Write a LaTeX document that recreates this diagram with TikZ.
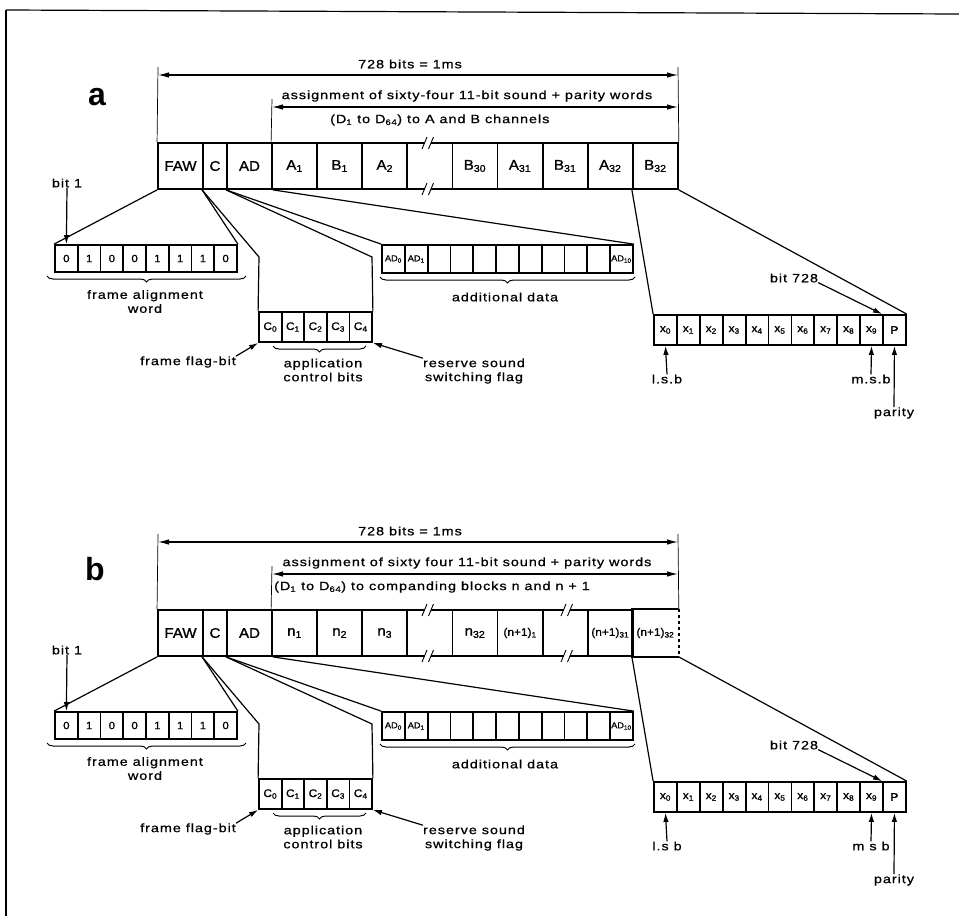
\documentclass[tikz,border=0pt]{standalone}
\usepackage{fontspec}
\setmainfont{Liberation Sans}[FakeStretch=1.2, LetterSpace=8, FakeBold=0.8]
\newfontfamily\cellfont{Liberation Sans}[FakeStretch=1.08, FakeBold=1.2]
\newfontfamily\panelfont{Liberation Sans}
\usetikzlibrary{arrows.meta, decorations.pathreplacing}

\tikzset{
 box/.style={draw, line width=1.8pt, inner sep=0pt, anchor=center, font=\cellfont\fontsize{14}{14}\selectfont},
 mcell/.style={box, minimum width=45.1pt, minimum height=46pt},
 wcell/.style={box, minimum width=22.75pt, minimum height=27pt, font=\cellfont\fontsize{10.5}{10.5}\selectfont},
 ccell/.style={box, minimum width=22.6pt, minimum height=30pt, font=\cellfont\fontsize{11}{11}\selectfont},
 adcell/.style={box, minimum width=22.8pt, minimum height=28pt, font=\cellfont\fontsize{8.5}{8.5}\selectfont},
 xcell/.style={box, minimum width=22.9pt, minimum height=30pt, font=\cellfont\fontsize{11}{11}\selectfont},
 smallcell/.style={font=\cellfont\fontsize{11}{11}\selectfont},
 lbl/.style={inner sep=0pt, font=\fontsize{12}{14}\selectfont, align=center},
 panellbl/.style={inner sep=0pt, anchor=base, font=\panelfont\bfseries\fontsize{32}{32}\selectfont},
 conn/.style={line width=1.2pt},
 pointer/.style={line width=1.2pt, -{Latex[length=9pt,width=5.5pt]}},
 dim/.style={line width=1.2pt, {Latex[length=11pt,width=5.5pt]}-{Latex[length=11pt,width=5.5pt]}},
 ext/.style={line width=0.7pt},
 brc/.style={decorate, decoration={brace, mirror, amplitude=6pt}, line width=1pt},
}

\newcommand\gapcell[5]{%
 \draw[line width=1.8pt] (#1,#4) -- ({#3-3},#4) ({#3+3},#4) -- (#2,#4) (#1,#5) -- ({#3-3},#5) ({#3+3},#5) -- (#2,#5);
 \draw[line width=0.9pt] ({#3-6},{#4+6}) -- ({#3-1},{#4-6}) ({#3+0.5},{#4+6}) -- ({#3+5.5},{#4-6})
   ({#3-6},{#5+6}) -- ({#3-1},{#5-6}) ({#3+0.5},{#5+6}) -- ({#3+5.5},{#5-6});
}

% #1 prefix, #2 second line, #3 third line, #4 x of third line, #5 lsb, #6 msb
\newcommand\panelparts[6]{%
 \coordinate (#1dimL) at (158,75);
 \coordinate (#1dimR) at (678,75);
 \coordinate (#1dimM) at (272,107);
 \coordinate (#1dimRb) at (678,107);
 \coordinate (#1extL) at (158,67);
 \coordinate (#1extR) at (678,67);
 \coordinate (#1extM) at (272,99);
 \draw[ext] (#1FAW.north west) -- (#1extL);
 \draw[ext] (#1D9.north east) -- (#1extR);
 \draw[ext] (#1D1.north west) -- (#1extM);
 \draw[dim] (#1dimL) -- (#1dimR);
 \draw[dim] (#1dimM) -- (#1dimRb);
 \node[lbl] (#1ta) at (410,64) {728 bits = 1ms};
 \node[lbl] (#1tb) at (467,96) {#2};
 \node[lbl, anchor=west] (#1tc) at (#4,120) {#3};
 % frame alignment word
 \foreach \v [count=\i from 0] in {0,1,0,0,1,1,1,0}
   \node[wcell] (#1w\i) at ({66.375+22.75*\i},258.5) {\v};
 % control bits
 \foreach \i in {0,...,4}
   \node[ccell] (#1c\i) at ({270.3+22.6*\i},327) {C\textsubscript{\i}};
 % additional data
 \node[adcell] (#1ad0) at (393.4,259) {AD\textsubscript{0}};
 \node[adcell] (#1ad1) at (416.2,259) {AD\textsubscript{1}};
 \foreach \i in {2,...,9}
   \node[adcell] (#1ad\i) at ({393.4+22.8*\i},259) {};
 \node[adcell] (#1ad10) at (621.4,259) {AD\textsubscript{10}};
 % sound word
 \foreach \i in {0,...,9}
   \node[xcell] (#1x\i) at ({665.45+22.9*\i},330) {x\textsubscript{\i}};
 \node[xcell] (#1P) at (894.45,330) {P};
 % expansion lines
 \coordinate (#1bendA) at (259,257);
 \coordinate (#1bendB) at (372,257);
 \draw[conn] (#1FAW.south west) -- (#1w0.north west);
 \draw[conn] (#1C.south west) -- (#1w7.north east);
 \draw[conn] (#1C.south west) -- (#1bendA) -- (#1c0.north west);
 \draw[conn] (#1AD.south west) -- (#1bendB) -- (#1c4.north east);
 \draw[conn] (#1AD.south west) -- (#1ad0.north west);
 \draw[conn] (#1AD.south east) -- (#1ad10.north east);
 \draw[conn] (#1D9.south west) -- (#1x0.north west);
 \draw[conn] (#1D9.south east) -- (#1P.north east);
 % braces
 \coordinate (#1bwL) at (47,276); \coordinate (#1bwR) at (246,276);
 \coordinate (#1bcL) at (273,346); \coordinate (#1bcR) at (366,346);
 \coordinate (#1baL) at (380,277); \coordinate (#1baR) at (635,277);
 \draw[brc] (#1bwL) -- (#1bwR);
 \draw[brc] (#1bcL) -- (#1bcR);
 \draw[brc] (#1baL) -- (#1baR);
 \node[lbl] (#1faw) at (145,301.5) {frame alignment\\word};
 \node[lbl] (#1acb) at (323,370) {application\\control bits};
 \node[lbl] (#1add) at (505,297) {additional data};
 % pointers
 \node[lbl] (#1bit1) at (67,183) {bit 1};
 \draw[pointer] (#1bit1.south) -- (#1w0.north);
 \node[lbl] (#1bit728) at (794,278) {bit 728};
 \draw[pointer] (#1bit728.south east) -- (#1P.north west);
 \node[lbl] (#1ffb) at (188,362) {frame flag-bit};
 \draw[pointer] (#1ffb.north east) -- (#1c0.south west);
 \node[lbl] (#1rsv) at (474,371) {reserve sound\\switching flag};
 \draw[pointer] (#1rsv.north west) -- (#1c4.south east);
 \node[lbl] (#1lsb) at (667,379) {#5};
 \draw[pointer] (#1lsb.north) -- (#1x0.south);
 \node[lbl] (#1msb) at (871,379) {#6};
 \draw[pointer] (#1msb.north) -- (#1x9.south);
 \node[lbl] (#1par) at (894,413) {parity};
 \draw[pointer] (#1par.north) -- (#1P.south);
}

\begin{document}
\begin{tikzpicture}[x=1pt, y=-1pt]
\useasboundingbox (0,0) rectangle (959,916);
\draw[line width=1.2pt] (6,10) -- (959,14);
\draw[line width=1.2pt] (6,10) -- (6,916);

% ---------- panel a ----------
\node[panellbl] (alab) at (97,105) {a};
\node[mcell] (aFAW) at (180.5,166) {FAW};
\node[mcell, minimum width=24pt] (aC) at (215,166) {C};
\node[mcell] (aAD) at (249.5,166) {AD};
\node[mcell] (aD1) at (294.55,166) {A\textsubscript{1}};
\node[mcell] (aD2) at (339.65,166) {B\textsubscript{1}};
\node[mcell] (aD3) at (384.75,166) {A\textsubscript{2}};
\gapcell{407.3}{452.4}{428}{143}{189}
\node[mcell] (aD5) at (474.95,166) {B\textsubscript{30}};
\node[mcell] (aD6) at (520.05,166) {A\textsubscript{31}};
\node[mcell] (aD7) at (565.15,166) {B\textsubscript{31}};
\node[mcell] (aD8) at (610.25,166) {A\textsubscript{32}};
\node[mcell] (aD9) at (655.35,166) {B\textsubscript{32}};
\panelparts{a}{assignment of sixty-four 11-bit sound + parity words}{(D\textsubscript{1} to D\textsubscript{64}) to A and B channels}{330}{l.s.b}{m.s.b}

% ---------- panel b ----------
\node[panellbl] (blab) at (95,580) {b};
\begin{scope}[yshift=-467pt]
\node[mcell] (bFAW) at (180.5,166) {FAW};
\node[mcell, minimum width=24pt] (bC) at (215,166) {C};
\node[mcell] (bAD) at (249.5,166) {AD};
\node[mcell] (bD1) at (294.55,166) {n\textsubscript{1}};
\node[mcell] (bD2) at (339.65,166) {n\textsubscript{2}};
\node[mcell] (bD3) at (384.75,166) {n\textsubscript{3}};
\gapcell{407.3}{452.4}{428}{143}{189}
\node[mcell] (bD5) at (474.95,166) {n\textsubscript{32}};
\node[mcell, smallcell] (bD6) at (520.05,166) {(n+1)\textsubscript{1}};
\gapcell{542.6}{587.7}{567}{143}{189}
\node[mcell, smallcell] (bD8) at (610.25,166) {(n+1)\textsubscript{31}};
\node[mcell, smallcell, draw=none] (bD9) at (655.35,166) {(n+1)\textsubscript{32}};
\draw[line width=1.8pt] (bD9.north east) -- (bD9.north west) -- (bD9.south west) -- (bD9.south east);
\draw[line width=1.4pt, dashed] (bD9.north east) -- (bD9.south east);
\panelparts{b}{assignment of sixty four 11-bit sound + parity words}{(D\textsubscript{1} to D\textsubscript{64}) to companding blocks n and n + 1}{274}{l.s b}{m s b}
\end{scope}
\end{tikzpicture}
\end{document}
